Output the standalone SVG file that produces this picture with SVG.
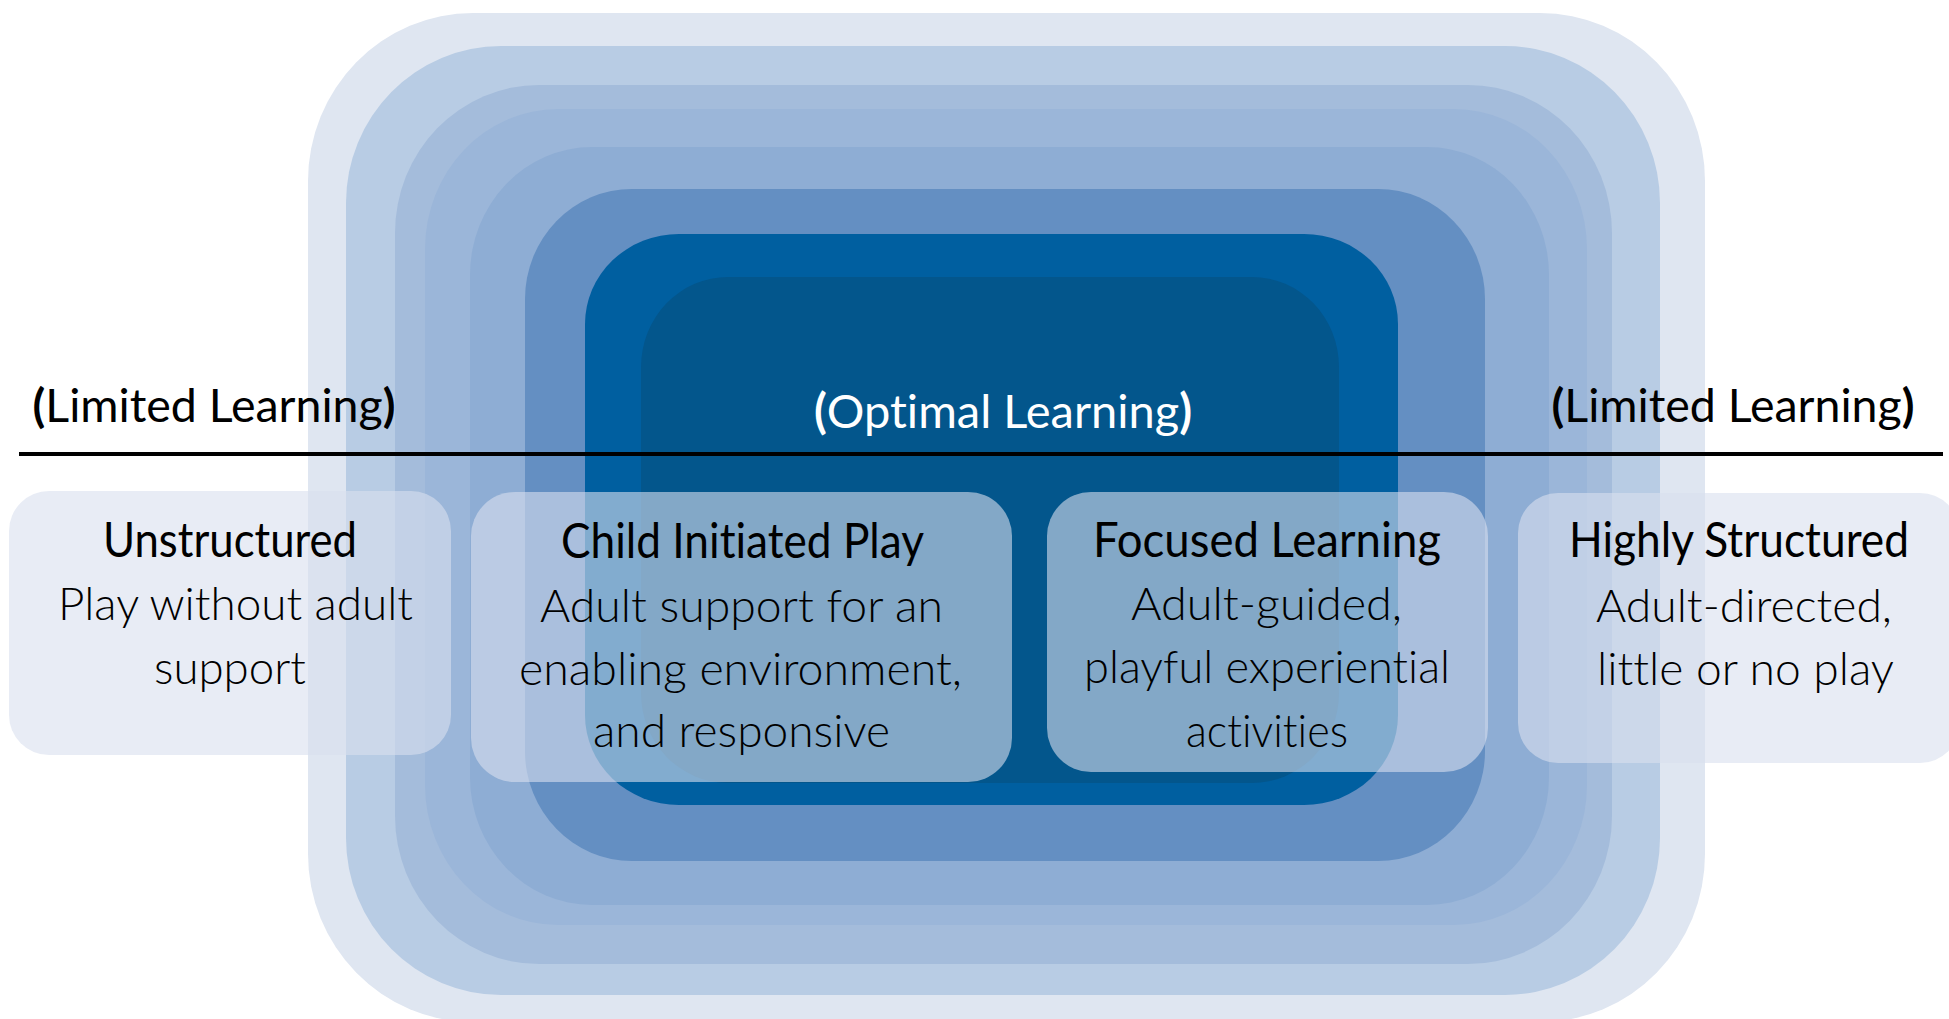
<svg xmlns="http://www.w3.org/2000/svg" width="1949" height="1019" viewBox="0 0 1949 1019">
<style>
  text { font-variant-ligatures: none; }
  .hd { font-family: Lato, "Open Sans", "Liberation Sans", sans-serif; font-size: 48px; font-weight: 400; fill: #000; }
  .bd { font-family: Lato, "Open Sans", "Liberation Sans", sans-serif; font-size: 45px; font-weight: 300; fill: #000; }
  .tl { font-family: Lato, "Open Sans", "Liberation Sans", sans-serif; font-size: 46.5px; font-weight: 400; fill: #000; text-anchor: middle; }
  .b { font-weight: 700; }
  .wh { fill: #ffffff; font-size: 47px; }
  .box { fill: #d8e0ee; fill-opacity: 0.6; }
</style>
<rect width="1949" height="1019" fill="#ffffff"/>
<g id="rings">
  <rect id="ring1" x="308" y="13" width="1397" height="1009" rx="165" ry="168" fill="#dfe6f1"/>
  <rect id="ring2" x="346" y="46" width="1314" height="949" rx="155" ry="157" fill="#b8cce4"/>
  <rect id="ring3" x="395" y="85" width="1217" height="879" rx="144" ry="148" fill="#a4bcdb"/>
  <rect id="ring4" x="425" y="109" width="1162" height="816" rx="133" ry="140" fill="#9bb6d9"/>
  <rect id="ring5" x="470" y="147" width="1079" height="758" rx="122" ry="128" fill="#8eadd4"/>
  <rect id="ring6" x="525" y="189" width="960" height="672" rx="107" ry="110" fill="#648fc2"/>
  <rect id="ring7" x="585" y="234" width="813" height="571" rx="94" ry="90" fill="#005fa0"/>
  <rect id="ring8" x="641" y="277" width="698" height="506" rx="87" ry="90" fill="#03568c"/>
</g>
<g id="connectors">
  <line x1="19" y1="454" x2="1943" y2="454" stroke="#000" stroke-width="4"/>
</g>
<g id="label-left">
  <text class="tl" x="214" y="422"><tspan class="b">(</tspan>Limited Learning<tspan class="b">)</tspan></text>
</g>
<g id="label-optimal">
  <text class="tl wh" x="1003" y="428"><tspan class="b">(</tspan>Optimal Learning<tspan class="b">)</tspan></text>
</g>
<g id="label-right">
  <text class="tl" x="1733" y="422"><tspan class="b">(</tspan>Limited Learning<tspan class="b">)</tspan></text>
</g>
<g id="node-unstructured">
  <rect class="box" x="9" y="491" width="442" height="264" rx="40"/>
  <text class="hd" x="103" y="557" textLength="254" lengthAdjust="spacingAndGlyphs">Unstructured</text>
  <text class="bd" x="58" y="620" textLength="355" lengthAdjust="spacingAndGlyphs">Play without adult</text>
  <text class="bd" x="154" y="684" textLength="152" lengthAdjust="spacingAndGlyphs">support</text>
</g>
<g id="node-child-initiated">
  <rect class="box" x="471" y="492" width="541" height="290" rx="44"/>
  <text class="hd" x="561" y="558" textLength="363" lengthAdjust="spacingAndGlyphs">Child Initiated Play</text>
  <text class="bd" x="540" y="622" textLength="403" lengthAdjust="spacingAndGlyphs">Adult support for an</text>
  <text class="bd" x="519" y="685" textLength="443" lengthAdjust="spacingAndGlyphs">enabling environment,</text>
  <text class="bd" x="593" y="747" textLength="297" lengthAdjust="spacingAndGlyphs">and responsive</text>
</g>
<g id="node-focused">
  <rect class="box" x="1047" y="492" width="441" height="280" rx="44"/>
  <text class="hd" x="1093" y="557" textLength="348" lengthAdjust="spacingAndGlyphs">Focused Learning</text>
  <text class="bd" x="1131" y="620" textLength="271" lengthAdjust="spacingAndGlyphs">Adult-guided,</text>
  <text class="bd" x="1084" y="683" textLength="366" lengthAdjust="spacingAndGlyphs">playful experiential</text>
  <text class="bd" x="1186" y="747" textLength="162" lengthAdjust="spacingAndGlyphs">activities</text>
</g>
<g id="node-highly-structured">
  <rect class="box" x="1518" y="493" width="442" height="270" rx="40"/>
  <text class="hd" x="1569" y="557" textLength="340" lengthAdjust="spacingAndGlyphs">Highly Structured</text>
  <text class="bd" x="1596" y="622" textLength="296" lengthAdjust="spacingAndGlyphs">Adult-directed,</text>
  <text class="bd" x="1597" y="685" textLength="297" lengthAdjust="spacingAndGlyphs">little or no play</text>
</g>
</svg>
